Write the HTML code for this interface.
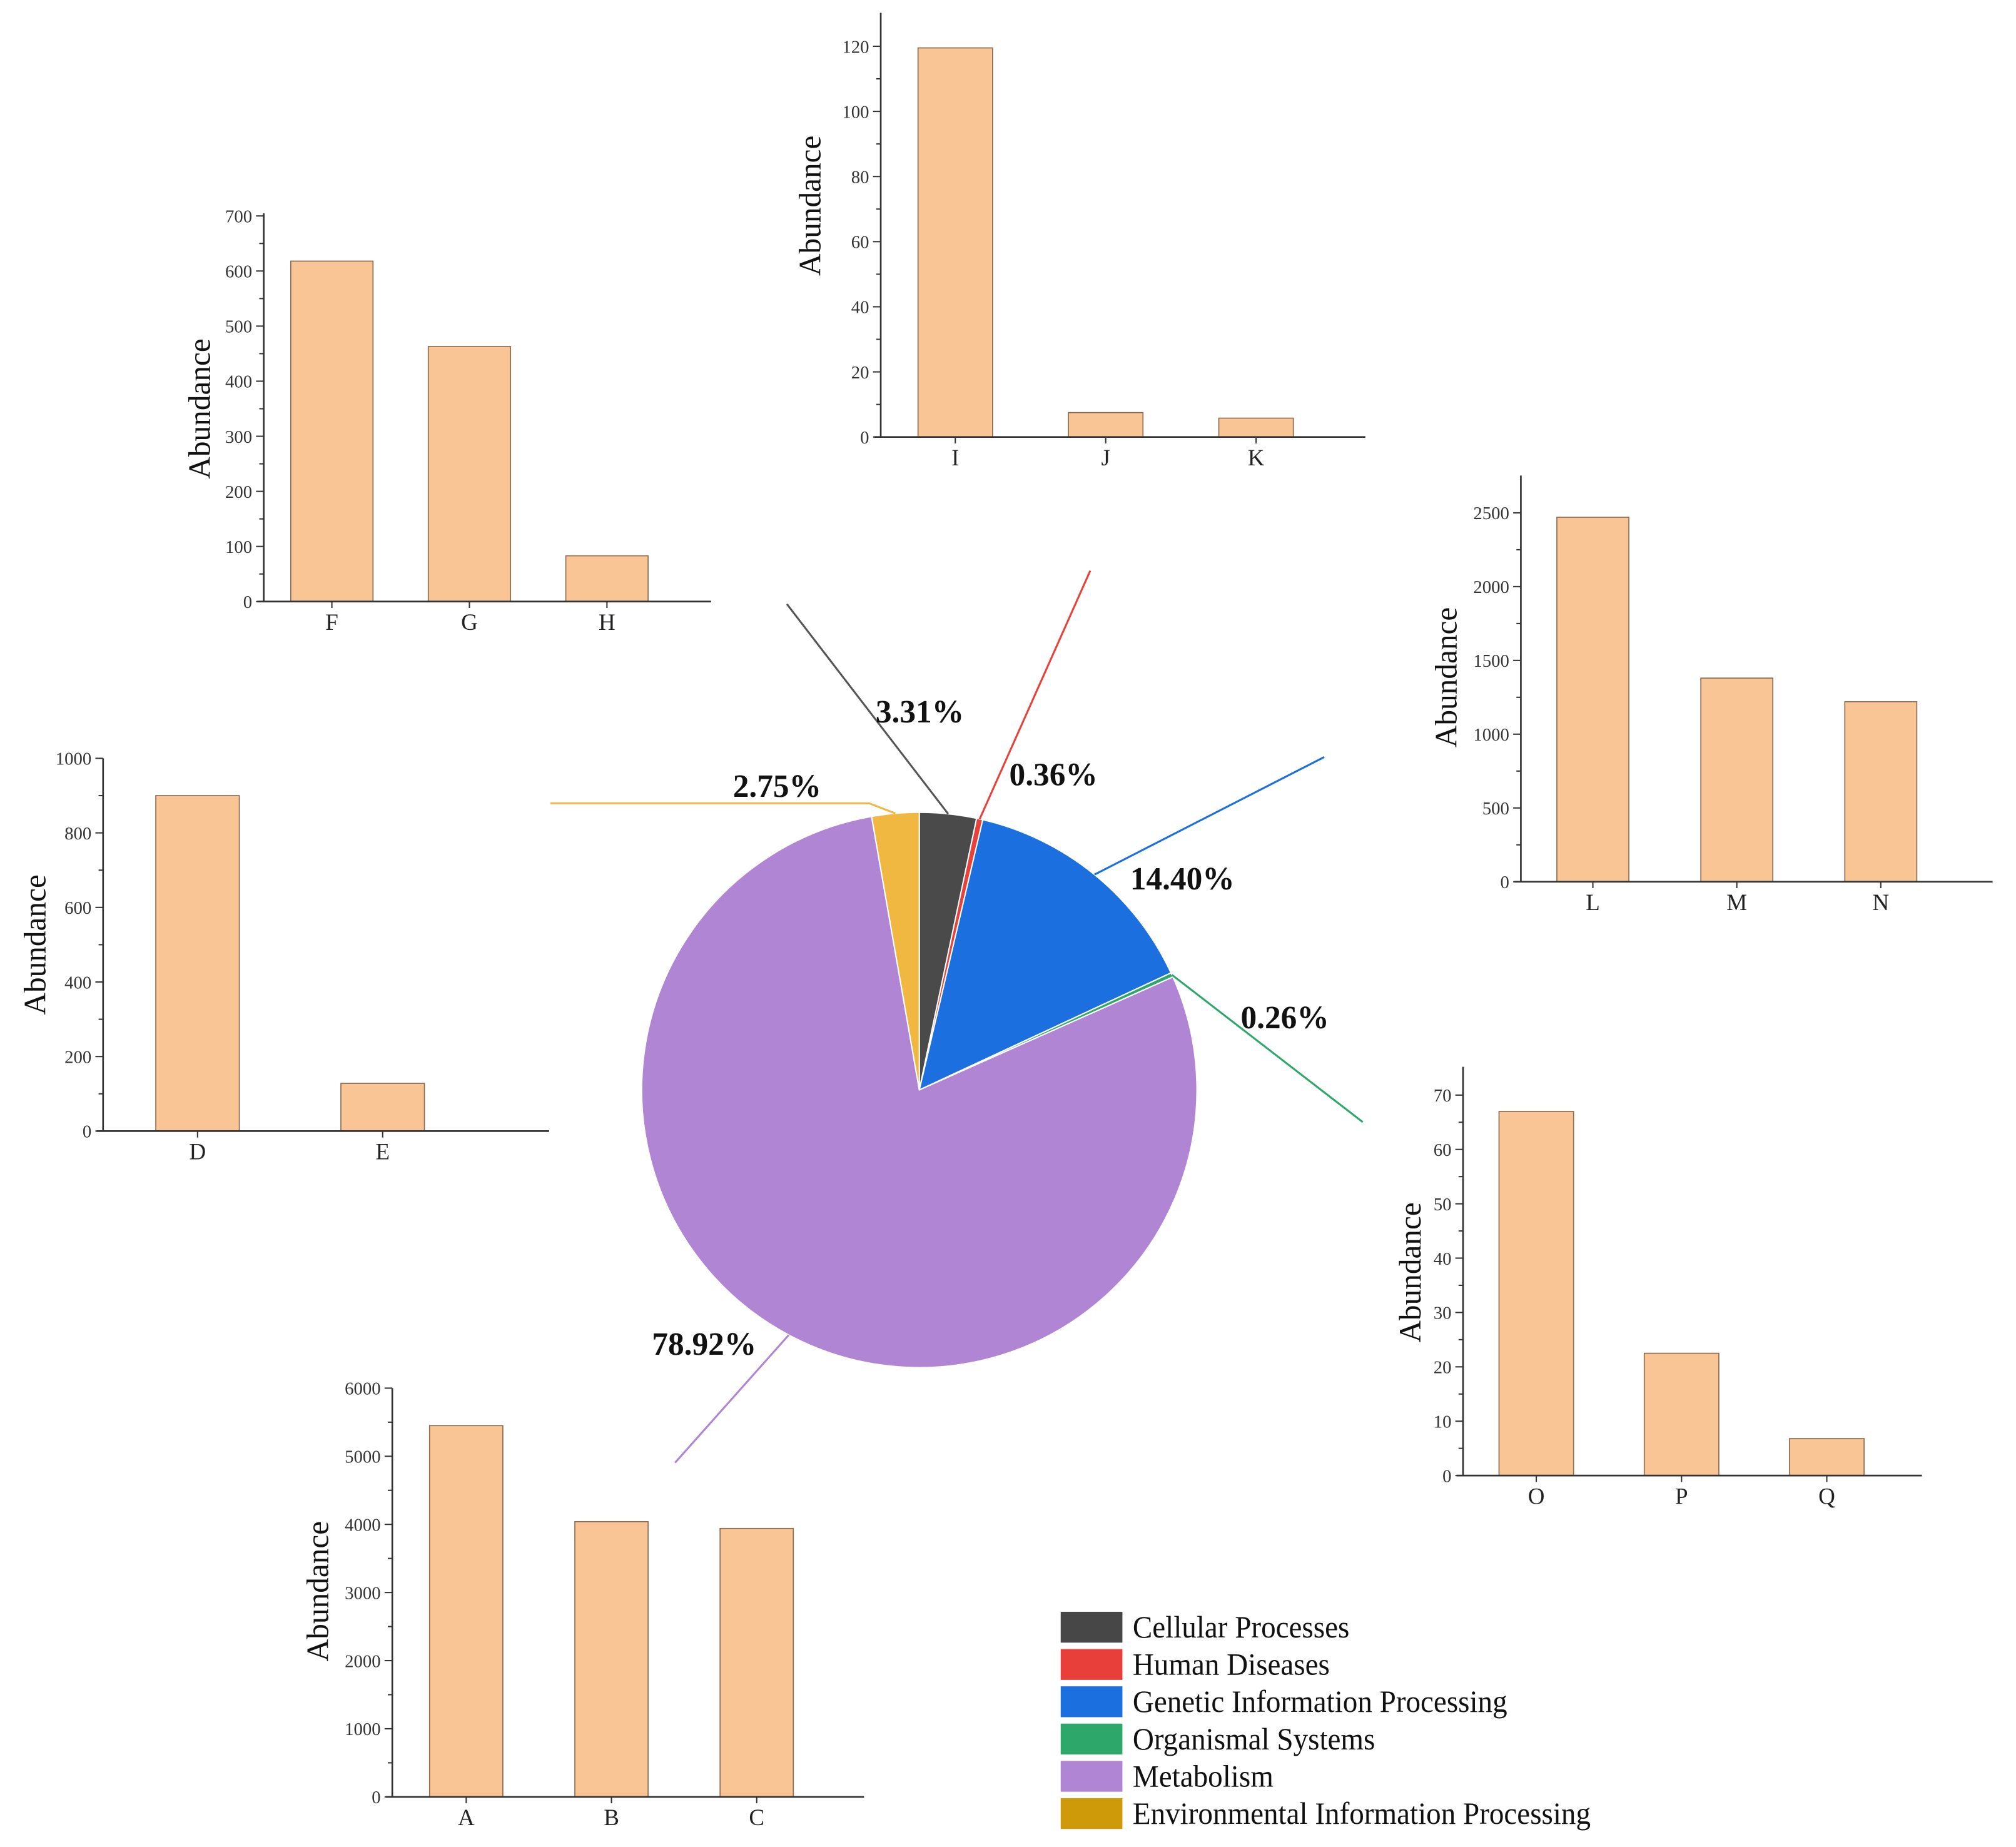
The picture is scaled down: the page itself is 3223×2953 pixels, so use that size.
<!DOCTYPE html>
<html><head><meta charset="utf-8"><style>
html,body{margin:0;padding:0;background:#fff;}
svg{display:block;font-family:"Liberation Serif",serif;}
</style></head><body>
<svg id="fig" width="3223" height="2953" viewBox="0 0 1568 1437" xmlns="http://www.w3.org/2000/svg">
<g id="root"></g>
</svg>
<script>
// Pie data
const pieCategories = ["Cellular Processes","Human Diseases","Genetic Information Processing","Organismal Systems","Metabolism","Environmental Information Processing"];
const pieValues = [3.31, 0.36, 14.40, 0.26, 78.92, 2.75];
const pieLabels = ["3.31%","0.36%","14.40%","0.26%","78.92%","2.75%"];

// Bar charts data
const catsFGH = ["F","G","H"];   const valsFGH = [618, 463, 83];   const ticksFGH = [0,100,200,300,400,500,600,700];
const catsIJK = ["I","J","K"];   const valsIJK = [119.5, 7.5, 5.8]; const ticksIJK = [0,20,40,60,80,100,120];
const catsLMN = ["L","M","N"];   const valsLMN = [2470, 1380, 1220]; const ticksLMN = [0,500,1000,1500,2000,2500];
const catsDE  = ["D","E"];       const valsDE  = [900, 128];        const ticksDE  = [0,200,400,600,800,1000];
const catsOPQ = ["O","P","Q"];   const valsOPQ = [67, 22.5, 6.8];   const ticksOPQ = [0,10,20,30,40,50,60,70];
const catsABC = ["A","B","C"];   const valsABC = [5450, 4040, 3940]; const ticksABC = [0,1000,2000,3000,4000,5000,6000];

const NS = "http://www.w3.org/2000/svg";
const root = document.getElementById("root");
function mk(tag, attrs, parent, text){
  const e = document.createElementNS(NS, tag);
  for (const k in attrs) e.setAttribute(k, attrs[k]);
  if (text !== undefined) e.textContent = text;
  (parent||root).appendChild(e);
  return e;
}

function barChart(name, cats, vals, ticks, L){
  const g = mk("g", {}, root);
  
  
  const maxT = ticks[ticks.length-1];
  const y = v => L.y0 - (v/maxT)*(L.y0 - L.yTop);
  cats.forEach((c,i)=>{
    const x = L.b0 + i*L.step;
    const r = mk("rect", {x:x, y:y(vals[i]), width:L.bw, height:L.y0 - y(vals[i]), fill:"#f9c595", stroke:"#8a6a50", "stroke-width":0.8}, g);
    
    
    const t = mk("text", {x:x+L.bw/2, y:L.y0+22, "text-anchor":"middle", "font-size":18, fill:"#222"}, g, c);
    
    
    mk("line", {x1:x+L.bw/2, x2:x+L.bw/2, y1:L.y0, y2:L.y0+5, stroke:"#333", "stroke-width":1}, g);
  });
  const ya = mk("line", {x1:L.ax, x2:L.ax, y1:L.axTop, y2:L.y0, stroke:"#333", "stroke-width":1.3}, g);
  
  
  const xa = mk("line", {x1:L.ax-5, x2:L.xEnd, y1:L.y0, y2:L.y0, stroke:"#333", "stroke-width":1.3}, g);
  
  
  const stepV = ticks[1]-ticks[0];
  ticks.forEach((tv,i)=>{
    mk("line", {x1:L.ax-6, x2:L.ax, y1:y(tv), y2:y(tv), stroke:"#333", "stroke-width":1}, g);
    if (i < ticks.length-1) mk("line", {x1:L.ax-3.5, x2:L.ax, y1:y(tv+stepV/2), y2:y(tv+stepV/2), stroke:"#333", "stroke-width":1}, g);
    const t = mk("text", {x:L.ax-9, y:y(tv)+5, "text-anchor":"end", "font-size":14, fill:"#333"}, g, String(tv));
    
    
  });
  const tt = mk("text", {x:L.tx, y:L.ty, "text-anchor":"middle", "font-size":24, fill:"#111", transform:`rotate(-90 ${L.tx} ${L.ty})`}, g, "Abundance");
  
  
}

barChart("bar-chart-fgh", catsFGH, valsFGH, ticksFGH, {ax:205, y0:468, yTop:168, axTop:166, xEnd:553, b0:226, bw:64, step:107, tx:163, ty:318});
barChart("bar-chart-ijk", catsIJK, valsIJK, ticksIJK, {ax:685, y0:340, yTop:36, axTop:10, xEnd:1062, b0:714, bw:58, step:117, tx:638, ty:160});
barChart("bar-chart-lmn", catsLMN, valsLMN, ticksLMN, {ax:1183, y0:686, yTop:399, axTop:370, xEnd:1550, b0:1211, bw:56, step:112, tx:1133, ty:527});
barChart("bar-chart-de",  catsDE,  valsDE,  ticksDE,  {ax:80,  y0:880, yTop:590, axTop:590, xEnd:427, b0:121, bw:65, step:144, tx:35, ty:735});
barChart("bar-chart-opq", catsOPQ, valsOPQ, ticksOPQ, {ax:1138, y0:1148, yTop:852, axTop:830, xEnd:1495, b0:1166, bw:58, step:113, tx:1105, ty:990});
barChart("bar-chart-abc", catsABC, valsABC, ticksABC, {ax:305, y0:1398, yTop:1080, axTop:1080, xEnd:672, b0:334, bw:57, step:113, tx:255, ty:1238});

// Pie
const pieColors = ["#4a4a4a","#e8403a","#1b6fde","#2ea86a","#b085d4","#f0b840"];
const legendColors = ["#474747","#e83f3a","#1b6fde","#2ea86a","#b086d4","#cf9a0a"];
const cx = 715, cy = 848, R = 216;
const pg = mk("g", {}, root);


const total = pieValues.reduce((a,b)=>a+b,0);
let acc = 0;
const pt = (a, r) => [cx + r*Math.sin(a), cy - r*Math.cos(a)];
const mids = [];
pieValues.forEach((v,i)=>{
  const a0 = acc/total*2*Math.PI; acc += v; const a1 = acc/total*2*Math.PI;
  const p0 = pt(a0,R), p1 = pt(a1,R);
  const large = (a1-a0) > Math.PI ? 1 : 0;
  const s = mk("path", {d:`M${cx},${cy} L${p0[0]},${p0[1]} A${R},${R} 0 ${large} 1 ${p1[0]},${p1[1]} Z`, fill:pieColors[i], stroke:"#fff", "stroke-width":1}, pg);
  
  
  mids.push((a0+a1)/2);
});
const leaderEnds = [[612,470],[848,444],[1030,589],[1060,873],[525,1138],null];
const labelPos = [[681,562],[785,611],[879,692],[965,800],[507,1054],[570,620]];
pieValues.forEach((v,i)=>{
  const a = mids[i];
  const s = pt(a, R);
  let l;
  if (i === 5) {
    l = mk("polyline", {points:`${s[0]},${s[1]} 676,625 428,625`, fill:"none", stroke:pieColors[i], "stroke-width":1.5}, pg);
  } else {
    l = mk("line", {x1:s[0], y1:s[1], x2:leaderEnds[i][0], y2:leaderEnds[i][1], stroke: i===0?"#555":pieColors[i], "stroke-width":1.5}, pg);
  }
  
  
  const t = mk("text", {x:labelPos[i][0], y:labelPos[i][1], "font-size":25, "font-weight":"bold", fill:"#111"}, pg, pieLabels[i]);
  
  
});

// Legend
const lg = mk("g", {}, root);


pieCategories.forEach((c,i)=>{
  const yy = 1254 + i*29;
  const r = mk("rect", {x:825, y:yy, width:48, height:24, fill:legendColors[i]}, lg);
  
  
  const t = mk("text", {x:881, y:yy+20, "font-size":24, fill:"#111"}, lg, c);
  
  
  const w = t.getComputedTextLength();
  if (w > 0) { t.setAttribute('textLength', (w*0.955).toFixed(1)); t.setAttribute('lengthAdjust', 'spacingAndGlyphs'); }
});
</script>
</body></html>
